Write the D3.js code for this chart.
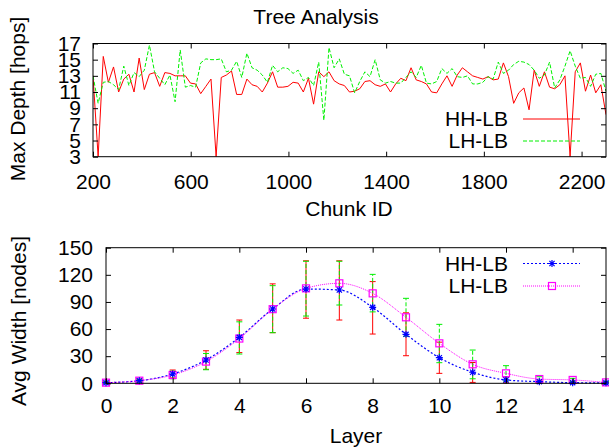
<!DOCTYPE html>
<html>
<head>
<meta charset="utf-8">
<script src="https://cdn.jsdelivr.net/npm/d3@7"></script>
<style>
  body { margin: 0; background: #fff; }
  text { font-family: "Liberation Sans", Arial, sans-serif; font-size: 21px; fill: #000; }
</style>
</head>
<body>
<svg id="chart" width="609" height="448"></svg>
<script>
// ---------------- data ----------------
const chunkIds = [200,221,242,263,284,305,326,347,368,389,410,431,452,473,494,515,536,557,578,599,
  620,641,662,683,704,725,746,767,788,809,830,851,872,893,914,935,956,977,998,1019,
  1040,1061,1082,1103,1124,1145,1166,1187,1208,1229,1250,1271,1292,1313,1334,1355,1376,1397,1418,1439,
  1460,1481,1502,1523,1544,1565,1586,1607,1628,1649,1670,1691,1712,1733,1754,1775,1796,1817,1838,1859,
  1880,1901,1922,1943,1964,1985,2006,2027,2048,2069,2090,2111,2132,2153,2174,2195,2216,2237,2258,2279,2300];

const depthHH = [13.0,3.0,15.4,12.2,14.1,11.0,12.6,13.2,11.0,15.2,
  11.3,13.2,13.4,11.7,13.4,13.3,13.0,13.0,13.0,12.1,
  12.0,10.8,11.7,12.6,3.0,12.8,13.1,13.6,10.7,10.7,
  12.6,11.9,11.7,11.0,12.1,13.5,11.6,11.6,11.7,12.2,
  12.1,11.0,12.7,9.5,13.5,12.9,13.5,12.4,12.0,11.8,
  11.0,11.1,11.4,12.3,12.4,11.9,11.7,12.0,11.0,12.0,
  12.7,12.4,14.0,12.5,12.3,12.0,11.0,10.9,12.0,13.0,
  11.7,13.1,14.0,13.5,13.0,12.8,12.6,12.9,12.5,12.6,
  14.6,12.9,9.6,10.9,11.5,8.8,13.7,11.7,13.5,11.6,
  11.4,11.9,13.0,3.0,13.5,14.6,11.1,13.1,10.9,11.9,
  8.2];

const depthLH = [13.0,9.6,12.2,12.3,11.9,11.3,14.2,11.8,13.4,12.9,
  13.7,16.8,13.5,12.7,11.9,13.1,9.8,16.2,11.6,11.8,
  11.6,14.6,15.1,15.0,15.0,15.1,13.5,13.7,14.8,12.8,
  15.8,14.0,13.7,13.1,12.2,14.3,13.5,14.0,13.9,13.3,
  13.7,12.4,12.8,11.8,14.7,7.5,16.5,14.0,15.1,13.2,
  13.0,10.9,12.3,13.5,12.9,15.0,12.5,12.1,12.3,12.1,
  12.1,12.8,13.5,12.8,14.3,12.1,12.0,12.3,13.9,13.3,
  13.9,12.9,12.8,13.0,12.0,12.0,12.2,12.9,12.6,14.7,
  13.3,13.7,14.4,14.8,14.7,14.4,13.7,12.7,13.1,14.7,
  11.5,12.5,14.2,16.1,14.2,12.7,12.8,11.7,13.2,13.3,
  11.1];

const layers  = [0,1,2,3,4,5,6,7,8,9,10,11,12,13,14,15];
const widthHH = [0.7,2.9,10.3,25.8,50.8,82.2,104.3,103.2,84.0,54.2,28.3,12.2,3.7,1.8,0.7,0.5];
const hhLow   = [0,1.5,6,15.5,34,56,72,70,54.5,30.5,11,1,0.5,0,0,0];
const hhHigh  = [1.5,4.5,14.7,36,70,110,135.5,135.5,112.5,78,45.5,23,7,3.5,1.5,1];
const widthLH = [0.7,2.9,9.2,24,49.5,82,105,110.6,99.5,73,44.2,21,11,4.7,3.7,1.0];
const lhLow   = [0,1.5,5,15,32.4,56,74.4,86.6,79,52,22.8,5,2.5,2,2,0];
const lhHigh  = [1.5,4.5,13.4,33,68,108,135,135,120.5,94,65.2,36.8,19.5,7.3,5.5,2];

const depthTicksX = [200,600,1000,1400,1800,2200];
const depthTicksY = [3,5,7,9,11,13,15,17];
const layerTicksX = [0,2,4,6,8,10,12,14];
const widthTicksY = [0,30,60,90,120,150];

// ---------------- setup ----------------
const svg = d3.select("#chart");
svg.append("rect").attr("width", 609).attr("height", 448).attr("fill", "#fff");
const GREEN = "#00f000";

// gnuplot style box with inward, mirrored ticks
function frame(g, x, y, xt, yt, padX, padY) {
  const [x0, x1] = x.range(), [y0, y1] = y.range();
  const fmt = d3.format("d");
  g.append("g").attr("transform", `translate(0,${y0})`)
    .call(d3.axisBottom(x).tickValues(xt).tickSize(-5).tickPadding(padX).tickFormat(fmt));
  g.append("g").attr("transform", `translate(0,${y1})`)
    .call(d3.axisTop(x).tickValues(xt).tickSize(-5).tickFormat(""));
  g.append("g").attr("transform", `translate(${x0},0)`)
    .call(d3.axisLeft(y).tickValues(yt).tickSize(-5).tickPadding(padY).tickFormat(fmt));
  g.append("g").attr("transform", `translate(${x1},0)`)
    .call(d3.axisRight(y).tickValues(yt).tickSize(-5).tickFormat(""));
  g.selectAll(".domain").remove();
  g.selectAll(".tick line").attr("stroke", "#000");
  g.selectAll(".tick text").style("font-size", "21px")
    .style("font-family", '"Liberation Sans", Arial, sans-serif').attr("fill", "#000");
  g.append("rect")
    .attr("x", x0).attr("y", y1).attr("width", x1 - x0).attr("height", y0 - y1)
    .attr("fill", "none").attr("stroke", "#000").attr("stroke-width", 1);
}

// ---------------- top: Tree Analysis ----------------
const xTop = d3.scaleLinear().domain([200, 2300]).range([93, 606]);
const yTop = d3.scaleLinear().domain([3, 17]).range([156.7, 43.5]);

const gTop = svg.append("g");
gTop.append("clipPath").attr("id", "clipTop").append("rect")
  .attr("x", 93).attr("y", 43.5).attr("width", 513).attr("height", 113.2);

const lineTop = vals => d3.line()
  .x((d, i) => xTop(chunkIds[i]))
  .y(d => yTop(d))(vals);

const plotTop = gTop.append("g").attr("clip-path", "url(#clipTop)");
plotTop.append("path").attr("d", lineTop(depthHH))
  .attr("fill", "none").attr("stroke", "#ff0000").attr("stroke-width", 1);
plotTop.append("path").attr("d", lineTop(depthLH))
  .attr("fill", "none").attr("stroke", GREEN).attr("stroke-width", 1)
  .attr("stroke-dasharray", "4,2");

frame(gTop, xTop, yTop, depthTicksX, depthTicksY, 17, 12);

gTop.append("text").attr("x", 316).attr("y", 24).attr("text-anchor", "middle").text("Tree Analysis");
gTop.append("text").attr("x", 349).attr("y", 216).attr("text-anchor", "middle").text("Chunk ID");
gTop.append("text").attr("transform", "translate(25,99) rotate(-90)")
  .attr("text-anchor", "middle").text("Max Depth [hops]");

// legend
const legTop = [
  { name: "HH-LB", color: "#ff0000", dash: null, y: 119 },
  { name: "LH-LB", color: GREEN, dash: "4,2", y: 141 }
];
legTop.forEach(d => {
  gTop.append("text").attr("x", 508).attr("y", d.y).attr("dy", "0.35em")
    .attr("text-anchor", "end").text(d.name);
  gTop.append("line").attr("x1", 523).attr("x2", 580).attr("y1", d.y).attr("y2", d.y)
    .attr("stroke", d.color).attr("stroke-dasharray", d.dash);
});

// ---------------- bottom: width per layer ----------------
const xBot = d3.scaleLinear().domain([0, 15]).range([106, 606]);
const yBot = d3.scaleLinear().domain([0, 150]).range([383.3, 247.7]);

const gBot = svg.append("g");

function errBars(lo, hi, color, dash) {
  const g = gBot.append("g").attr("stroke", color).attr("stroke-width", 1).attr("fill", "none");
  layers.forEach((l, i) => {
    const cx = xBot(l);
    g.append("line").attr("x1", cx).attr("x2", cx).attr("y1", yBot(lo[i])).attr("y2", yBot(hi[i]))
      .attr("stroke-dasharray", dash);
    [lo[i], hi[i]].forEach(v => {
      g.append("line").attr("x1", cx - 3).attr("x2", cx + 3).attr("y1", yBot(v)).attr("y2", yBot(v));
    });
  });
}
errBars(hhLow, hhHigh, "#ff0000", null);
errBars(lhLow, lhHigh, GREEN, "4,2");

const lineBot = d3.line().x((d, i) => xBot(layers[i])).y(d => yBot(d)).curve(d3.curveMonotoneX);
gBot.append("path").attr("d", lineBot(widthHH))
  .attr("fill", "none").attr("stroke", "#0000ff").attr("stroke-width", 1.2)
  .attr("stroke-dasharray", "2,2");
gBot.append("path").attr("d", lineBot(widthLH))
  .attr("fill", "none").attr("stroke", "#ff00ff").attr("stroke-width", 1)
  .attr("stroke-dasharray", "1,1");

function square(g, cx, cy) {
  g.append("rect").attr("x", cx - 3.5).attr("y", cy - 3.5).attr("width", 7).attr("height", 7)
    .attr("fill", "none").attr("stroke", "#ff00ff").attr("stroke-width", 1.2);
}
function star(g, cx, cy) {
  const r = 3.5, q = 2.6;
  g.append("path")
    .attr("d", `M${cx - r},${cy}H${cx + r}M${cx},${cy - r}V${cy + r}` +
      `M${cx - q},${cy - q}L${cx + q},${cy + q}M${cx - q},${cy + q}L${cx + q},${cy - q}`)
    .attr("stroke", "#0000ff").attr("stroke-width", 1.2).attr("fill", "none");
}
layers.forEach((l, i) => square(gBot, xBot(l), yBot(widthLH[i])));
layers.forEach((l, i) => star(gBot, xBot(l), yBot(widthHH[i])));

frame(gBot, xBot, yBot, layerTicksX, widthTicksY, 15, 13);

gBot.append("text").attr("x", 356).attr("y", 443).attr("text-anchor", "middle").text("Layer");
gBot.append("text").attr("transform", "translate(26,321) rotate(-90)")
  .attr("text-anchor", "middle").text("Avg Width [nodes]");

// legend
const legBot = [
  { name: "HH-LB", color: "#0000ff", dash: "2,2", y: 263.5, mark: star },
  { name: "LH-LB", color: "#ff00ff", dash: "1,1", y: 286, mark: square }
];
legBot.forEach(d => {
  gBot.append("text").attr("x", 508).attr("y", d.y).attr("dy", "0.35em")
    .attr("text-anchor", "end").text(d.name);
  gBot.append("line").attr("x1", 523).attr("x2", 580).attr("y1", d.y).attr("y2", d.y)
    .attr("stroke", d.color).attr("stroke-dasharray", d.dash);
  d.mark(gBot, 552, d.y);
});
</script>
</body>
</html>
